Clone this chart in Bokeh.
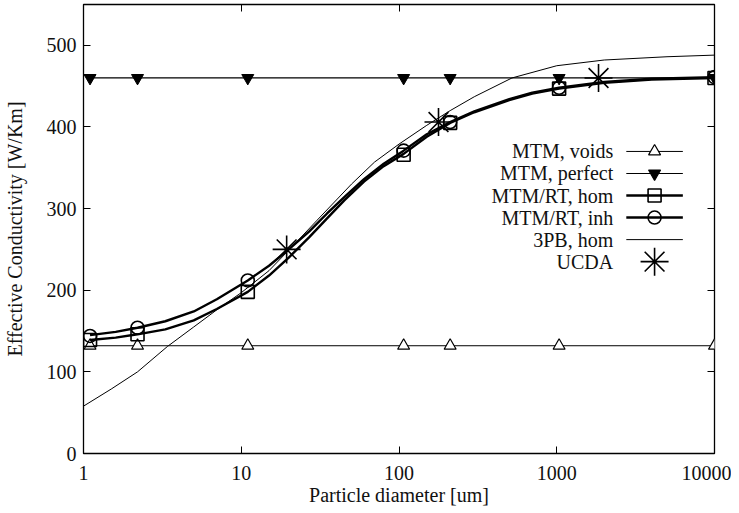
from bokeh.plotting import figure
from bokeh.models import Range1d, FixedTicker, NumeralTickFormatter, LinearAxis, LogAxis
from bokeh.core.properties import value
from bokeh.embed import file_html
from bokeh.resources import INLINE

# ---- data ----
x_pts = [1.1, 2.2, 11, 107, 211, 1035, 10000]
voids = [132, 132, 132, 132, 132, 132, 132]
perfect = [460, 460, 460, 460, 460, 460, 460]
hom = [139, 146, 198, 366, 405, 447, 460]
inh = [144, 154, 212, 371, 406, 448, 461]

# smooth curves drawn through the data
hom_curve_x = [1.1, 1.6, 2.2, 3.3, 5, 7, 11, 15, 20, 27, 35, 45, 60, 80, 107, 150, 211,
               300, 500, 700, 1035, 2000, 4000, 10000]
hom_curve_y = [139, 142, 146, 152, 163, 177, 198, 218, 240, 265, 288, 310, 333, 352, 367,
               388, 405, 418, 433, 441, 447, 454, 458, 460]
inh_curve_x = [1.1, 1.6, 2.2, 3.3, 5, 7, 11, 15, 20, 27, 35, 45, 60, 80, 107, 150, 211,
               300, 500, 700, 1035, 2000, 4000, 10000]
inh_curve_y = [145, 149, 154, 162, 174, 189, 212, 230, 250, 272, 294, 314, 336, 355, 371,
               391, 406, 419, 434, 442, 448, 455, 459, 461]

pb_x = [1, 1.5, 2.2, 3.4, 5, 7, 10, 15, 20, 30, 50, 70, 100, 150, 211, 300, 520,
        1000, 2000, 5000, 10000]
pb_y = [58, 79, 100, 131, 155, 176, 197, 224, 249, 285, 330, 357, 379, 402, 420, 437, 460,
        475, 482, 486, 488]

ucda_x = [19.4, 178, 1840]
ucda_y = [250, 406, 460]

x_ticks = [1, 10, 100, 1000, 10000]
y_ticks = [0, 100, 200, 300, 400, 500]

legend_labels = ["MTM, voids", "MTM, perfect", "MTM/RT, hom", "MTM/RT, inh", "3PB, hom", "UCDA"]

FONT = "Liberation Serif"
TXT = "#111111"

p = figure(width=731, height=508, x_axis_type="log",
           x_range=Range1d(1, 10000), y_range=Range1d(0, 550),
           output_backend="svg", toolbar_location=None,
           min_border_left=79, min_border_right=17, min_border_top=4, min_border_bottom=50)
p.background_fill_color = "white"
p.border_fill_color = "white"
p.outline_line_color = "black"
p.outline_line_width = 1.3
p.grid.visible = False

for ax in (p.xaxis[0], p.yaxis[0]):
    ax.major_tick_in = 7
    ax.major_tick_out = 0
    ax.minor_tick_line_color = None
    ax.axis_line_color = "black"
    ax.major_label_text_font = FONT
    ax.major_label_text_font_size = "20px"
    ax.major_label_text_color = TXT
    ax.axis_label_text_font = FONT
    ax.axis_label_text_font_size = "20px"
    ax.axis_label_text_font_style = "normal"
    ax.axis_label_text_color = TXT

p.xaxis.ticker = FixedTicker(ticks=x_ticks)
p.xaxis.formatter = NumeralTickFormatter(format="0")
p.yaxis.ticker = FixedTicker(ticks=y_ticks)
p.xaxis.axis_label = "Particle diameter [um]"
p.yaxis.axis_label = "Effective Conductivity [W/Km]"
p.xaxis.major_label_standoff = 12
p.xaxis.axis_label_standoff = 1
p.yaxis.major_label_standoff = 7
p.yaxis.axis_label_standoff = 18

# mirrored ticks on top and right
top = LogAxis(ticker=FixedTicker(ticks=x_ticks), major_tick_in=7, major_tick_out=0,
              minor_tick_line_color=None, major_label_text_font_size="1px",
              major_label_text_alpha=0, major_label_standoff=0, axis_line_color=None)
right = LinearAxis(ticker=FixedTicker(ticks=y_ticks), major_tick_in=7, major_tick_out=0,
                   minor_tick_line_color=None, major_label_text_font_size="1px",
                   major_label_text_alpha=0, major_label_standoff=0, axis_line_color=None)
p.add_layout(top, "above")
p.add_layout(right, "right")

# ---- series ----
p.line(x_pts, voids, line_color="black", line_width=1)
p.scatter(x_pts, voids, marker="triangle", size=12, fill_color="white",
          line_color="black", line_width=1.2)

p.line(x_pts, perfect, line_color="black", line_width=1.2)
p.scatter(x_pts, perfect, marker="inverted_triangle", size=12, fill_color="black",
          line_color="black")

p.line(pb_x, pb_y, line_color="black", line_width=1)

p.line(hom_curve_x, hom_curve_y, line_color="black", line_width=2.4, line_join="round")
p.scatter(x_pts, hom, marker="square", size=13, fill_color=None,
          line_color="black", line_width=1.6)

p.line(inh_curve_x, inh_curve_y, line_color="black", line_width=2.4, line_join="round")
p.scatter(x_pts, inh, marker="circle", size=13, fill_color=None,
          line_color="black", line_width=1.6)

p.scatter(ucda_x, ucda_y, marker="asterisk", size=28, line_color="black", line_width=1.6)

# ---- legend (label left, sample right) ----
leg_text_x = 2280
leg_x0, leg_x1, leg_xm = 2760, 6300, 4170
leg_y = [370, 343, 316, 289, 262, 235]

p.text([leg_text_x] * 6, leg_y, text=legend_labels, text_align="right",
       text_baseline="middle", text_font=value(FONT), text_font_size="20px",
       text_color=TXT)
styles = [(1, "triangle", "white"), (1.2, "inverted_triangle", "black"),
          (2.4, "square", None), (2.4, "circle", None), (1, None, None), (0, "asterisk", None)]
for yy, (lw, mk, fc) in zip(leg_y, styles):
    if lw > 0:
        p.line([leg_x0, leg_x1], [yy, yy], line_color="black", line_width=lw)
    if mk is not None:
        size = 28 if mk == "asterisk" else (12 if "triangle" in mk else 13)
        p.scatter([leg_xm], [yy], marker=mk, size=size, fill_color=fc,
                  line_color="black", line_width=1.6 if mk in ("square", "circle", "asterisk") else 1.2)

open("out.html", "w").write(file_html(p, INLINE))
